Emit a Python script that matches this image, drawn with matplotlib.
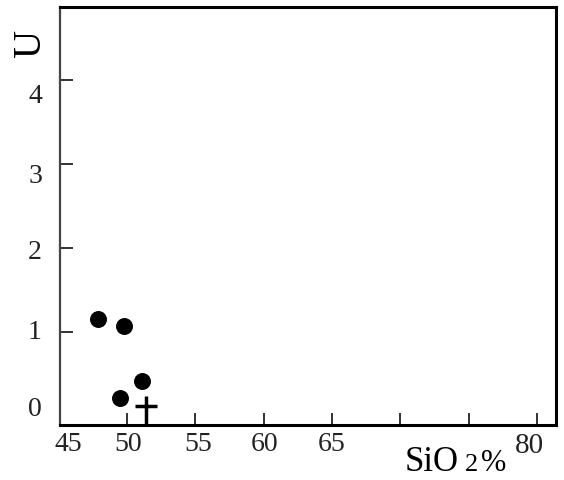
import matplotlib
matplotlib.use("Agg")
import matplotlib.pyplot as plt
from matplotlib.path import Path

# data
dot_sio2 = [47.9, 49.8, 51.1, 49.5]
dot_u = [1.16, 1.08, 0.42, 0.22]
plus_sio2 = [51.4]
plus_u = [0.12]

xticks = [50, 55, 60, 65, 70, 75, 80]
yticks = [1, 2, 3, 4]
xlabels = ["45", "50", "55", "60", "65"]
ylabels = ["0", "1", "2", "3", "4"]

# where the labels sit in the original (it is a bit squashed)
xlabel_at = [45.7, 50.1, 55.2, 60.1, 65.0]
ylabel_at = [0.08, 1.0, 1.95, 2.86, 3.8]

plt.rcParams['font.family'] = ['Liberation Serif', 'DejaVu Serif']

W, H = 564, 480
fig = plt.figure(figsize=(W / 100, H / 100), dpi=100)
ax = fig.add_axes([60 / W, 1 - 425 / H, (556 - 60) / W, (425 - 7) / H])

ax.scatter(dot_sio2, dot_u, s=125, color='black', zorder=3)
cross = Path([(-1, 0), (1, 0), (0, 0.9), (0, -1.7)],
             [Path.MOVETO, Path.LINETO, Path.MOVETO, Path.LINETO])
ax.plot(plus_sio2, plus_u, marker=cross, markersize=26, mew=2.5,
        color='black', linestyle='none', zorder=3)

ax.set_xlim(45.1, 81.4)
ax.set_ylim(-0.1, 4.87)

ax.set_xticks(xticks)
ax.set_yticks(yticks)
ax.set_xticklabels([])
ax.set_yticklabels([])
ax.tick_params(direction='in', length=9, width=1.4, color='#333333')

for s in ax.spines.values():
    s.set_linewidth(2.2)
ax.spines['left'].set_linewidth(1.6)
ax.spines['left'].set_color('#444444')

for v, lab in zip(xlabel_at, xlabels):
    ax.annotate(lab, xy=(v, 0), xycoords=('data', 'axes fraction'),
                xytext=(0, -5), textcoords='offset points',
                ha='center', va='top', fontsize=20, color='#222222')
for v, lab in zip(ylabel_at, ylabels):
    ax.annotate(lab, xy=(0, v), xycoords=('axes fraction', 'data'),
                xytext=(-13, 0), textcoords='offset points',
                ha='right', va='center', fontsize=20, color='#222222')

fig.text(405 / W, 1 - 471 / H, "SiO", fontsize=25, ha='left', va='baseline')
fig.text(465 / W, 1 - 471 / H, "2", fontsize=19, ha='left', va='baseline')
fig.text(481 / W, 1 - 471 / H, "%", fontsize=22, ha='left', va='baseline')
fig.text(529 / W, 1 - 446 / H, "80", fontsize=21, ha='center', va='center',
         color='#222222')
fig.text(31 / W, 1 - 44 / H, "U", fontsize=28, rotation=90,
         ha='center', va='center')

fig.savefig("out.png", dpi=100)
